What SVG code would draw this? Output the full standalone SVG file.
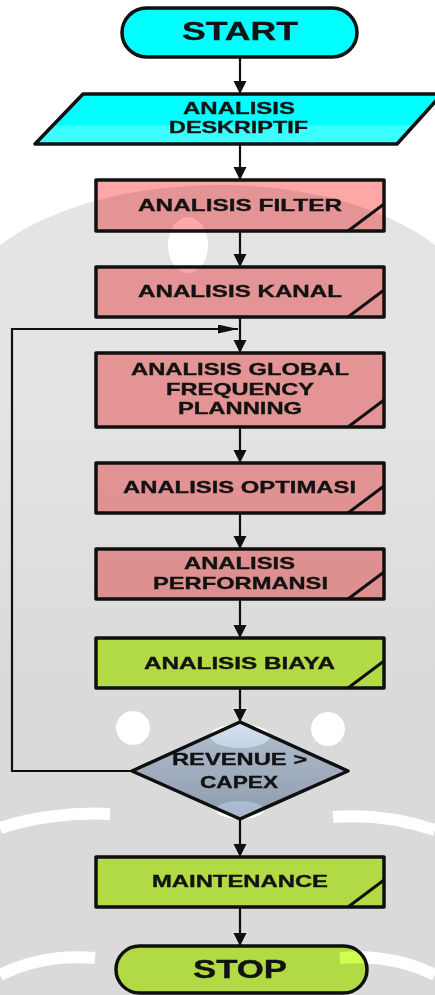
<svg xmlns="http://www.w3.org/2000/svg" width="435" height="995" viewBox="0 0 435 995">
<style>
.box{stroke:#111;stroke-width:3.5;stroke-linejoin:round}
.pink{fill:#FFA6A6}
.green{fill:#CFFF50}
.fold{fill:none;stroke:#111;stroke-width:3}
.t{font-family:"Liberation Sans",Arial,sans-serif;font-weight:bold;fill:#141414;stroke:#141414;stroke-width:0.35;font-size:17px}
.big{font-size:25.5px}
.conn{stroke:#111;stroke-width:2.2;fill:none}
.wh{fill:#fff}
.whs{fill:none;stroke:#fff}
</style>
<defs>
<marker id="ah" markerUnits="userSpaceOnUse" markerWidth="14" markerHeight="14" refX="13" refY="6.5" orient="auto"><path d="M0,0 L13,6.5 L0,13 z" fill="#111"/></marker>
<marker id="ahl" markerUnits="userSpaceOnUse" markerWidth="21" markerHeight="10" refX="20" refY="4.5" orient="auto"><path d="M0,0 L20,4.5 L0,9 z" fill="#111"/></marker>
<linearGradient id="cy" x1="0" y1="0" x2="0" y2="1"><stop offset="0" stop-color="#00FFFF"/><stop offset="0.6" stop-color="#00FFFF"/><stop offset="0.65" stop-color="#3CFFFF"/><stop offset="1" stop-color="#3CFFFF"/></linearGradient>
<linearGradient id="dm" x1="0" y1="0" x2="0" y2="1"><stop offset="0" stop-color="#D2E0F0"/><stop offset="1" stop-color="#A5B6CC"/></linearGradient>
<linearGradient id="wmg" gradientUnits="userSpaceOnUse" x1="0" y1="400" x2="0" y2="680"><stop offset="0" stop-color="#E4E4E4"/><stop offset="1" stop-color="#DADADA"/></linearGradient>
</defs>
<rect width="435" height="995" fill="#fff"/>
<g id="connectors">
<line class="conn" x1="240" y1="57" x2="240" y2="94" marker-end="url(#ah)"/>
<line class="conn" x1="240" y1="144" x2="240" y2="180" marker-end="url(#ah)"/>
<line class="conn" x1="240" y1="231" x2="240" y2="267" marker-end="url(#ah)"/>
<line class="conn" x1="240" y1="317" x2="240" y2="353" marker-end="url(#ah)"/>
<line class="conn" x1="240" y1="427" x2="240" y2="463" marker-end="url(#ah)"/>
<line class="conn" x1="240" y1="513" x2="240" y2="549" marker-end="url(#ah)"/>
<line class="conn" x1="240" y1="599" x2="240" y2="638" marker-end="url(#ah)"/>
<line class="conn" x1="240" y1="688" x2="240" y2="722" marker-end="url(#ah)"/>
<line class="conn" x1="240" y1="819" x2="240" y2="857" marker-end="url(#ah)"/>
<line class="conn" x1="240" y1="907" x2="240" y2="946" marker-end="url(#ah)"/>
<polyline class="conn" points="132,771 12,771 12,329 238,329" marker-end="url(#ahl)"/>
</g>
<g id="start">
<rect class="box" x="122" y="8" width="235" height="49" rx="24.5" fill="#00FFFF"/>
<text class="t big" x="182" y="40" textLength="116" lengthAdjust="spacingAndGlyphs">START</text>
</g>
<g id="deskriptif">
<polygon class="box" points="83,94 442,94 397,144 35,144" fill="url(#cy)"/>
<text class="t" x="183" y="114" textLength="112" lengthAdjust="spacingAndGlyphs">ANALISIS</text>
<text class="t" x="169" y="133" textLength="139" lengthAdjust="spacingAndGlyphs">DESKRIPTIF</text>
</g>
<g id="filter">
<rect class="box pink" x="96" y="180" width="288" height="51"/>
<path class="fold" d="M348,231 L384,204"/>
<text class="t" x="138" y="211" textLength="204" lengthAdjust="spacingAndGlyphs">ANALISIS FILTER</text>
</g>
<g id="kanal">
<rect class="box pink" x="96" y="267" width="288" height="50"/>
<path class="fold" d="M348,317 L384,290"/>
<text class="t" x="138" y="297" textLength="204" lengthAdjust="spacingAndGlyphs">ANALISIS KANAL</text>
</g>
<g id="global">
<rect class="box pink" x="96" y="353" width="288" height="74"/>
<path class="fold" d="M348,427 L384,400"/>
<text class="t" x="131" y="375" textLength="218" lengthAdjust="spacingAndGlyphs">ANALISIS GLOBAL</text>
<text class="t" x="166" y="395" textLength="148" lengthAdjust="spacingAndGlyphs">FREQUENCY</text>
<text class="t" x="178" y="414" textLength="124" lengthAdjust="spacingAndGlyphs">PLANNING</text>
</g>
<g id="optimasi">
<rect class="box pink" x="96" y="463" width="288" height="50"/>
<path class="fold" d="M348,513 L384,486"/>
<text class="t" x="123" y="493" textLength="233" lengthAdjust="spacingAndGlyphs">ANALISIS OPTIMASI</text>
</g>
<g id="performansi">
<rect class="box pink" x="96" y="549" width="288" height="50"/>
<path class="fold" d="M348,599 L384,572"/>
<text class="t" x="184" y="569" textLength="111" lengthAdjust="spacingAndGlyphs">ANALISIS</text>
<text class="t" x="153" y="589" textLength="175" lengthAdjust="spacingAndGlyphs">PERFORMANSI</text>
</g>
<g id="biaya">
<rect class="box green" x="96" y="638" width="288" height="50"/>
<path class="fold" d="M348,688 L384,661"/>
<text class="t" x="144" y="669" textLength="191" lengthAdjust="spacingAndGlyphs">ANALISIS BIAYA</text>
</g>
<g id="decision">
<polygon class="box" points="240,722 348,771 240,819 132,771" fill="url(#dm)"/>
<text class="t" x="172" y="765" textLength="135" lengthAdjust="spacingAndGlyphs">REVENUE &gt;</text>
<text class="t" x="200" y="788" textLength="78" lengthAdjust="spacingAndGlyphs">CAPEX</text>
</g>
<g id="maintenance">
<rect class="box green" x="96" y="857" width="288" height="50"/>
<path class="fold" d="M348,907 L384,880"/>
<text class="t" x="152" y="887" textLength="176" lengthAdjust="spacingAndGlyphs">MAINTENANCE</text>
</g>
<g id="stop">
<rect class="box green" x="116" y="946" width="251" height="47" rx="23.5"/>
<text class="t big" x="193" y="978" textLength="94" lengthAdjust="spacingAndGlyphs">STOP</text>
</g>
<g id="watermark" style="mix-blend-mode:multiply">
<path fill="url(#wmg)" d="M0,245 C60,200 150,185 218,185 C290,185 375,200 435,245 L435,995 L0,995 Z"/>
<ellipse class="wh" cx="188" cy="245" rx="20" ry="28"/>
<circle class="wh" cx="133" cy="728" r="17"/>
<circle class="wh" cx="328" cy="729" r="17"/>
<ellipse class="wh" cx="240" cy="736" rx="30" ry="12"/>
<ellipse class="wh" cx="240" cy="810" rx="24" ry="9"/>
<path class="whs" stroke-width="12" d="M0,828 C30,818 70,812 110,814"/>
<path class="whs" stroke-width="12" d="M435,830 C405,820 370,814 333,817"/>
<path class="whs" stroke-width="12" d="M0,975 C30,960 60,955 95,958"/>
<path class="whs" stroke-width="12" d="M435,975 C405,960 375,955 340,958"/>
</g>
</svg>
